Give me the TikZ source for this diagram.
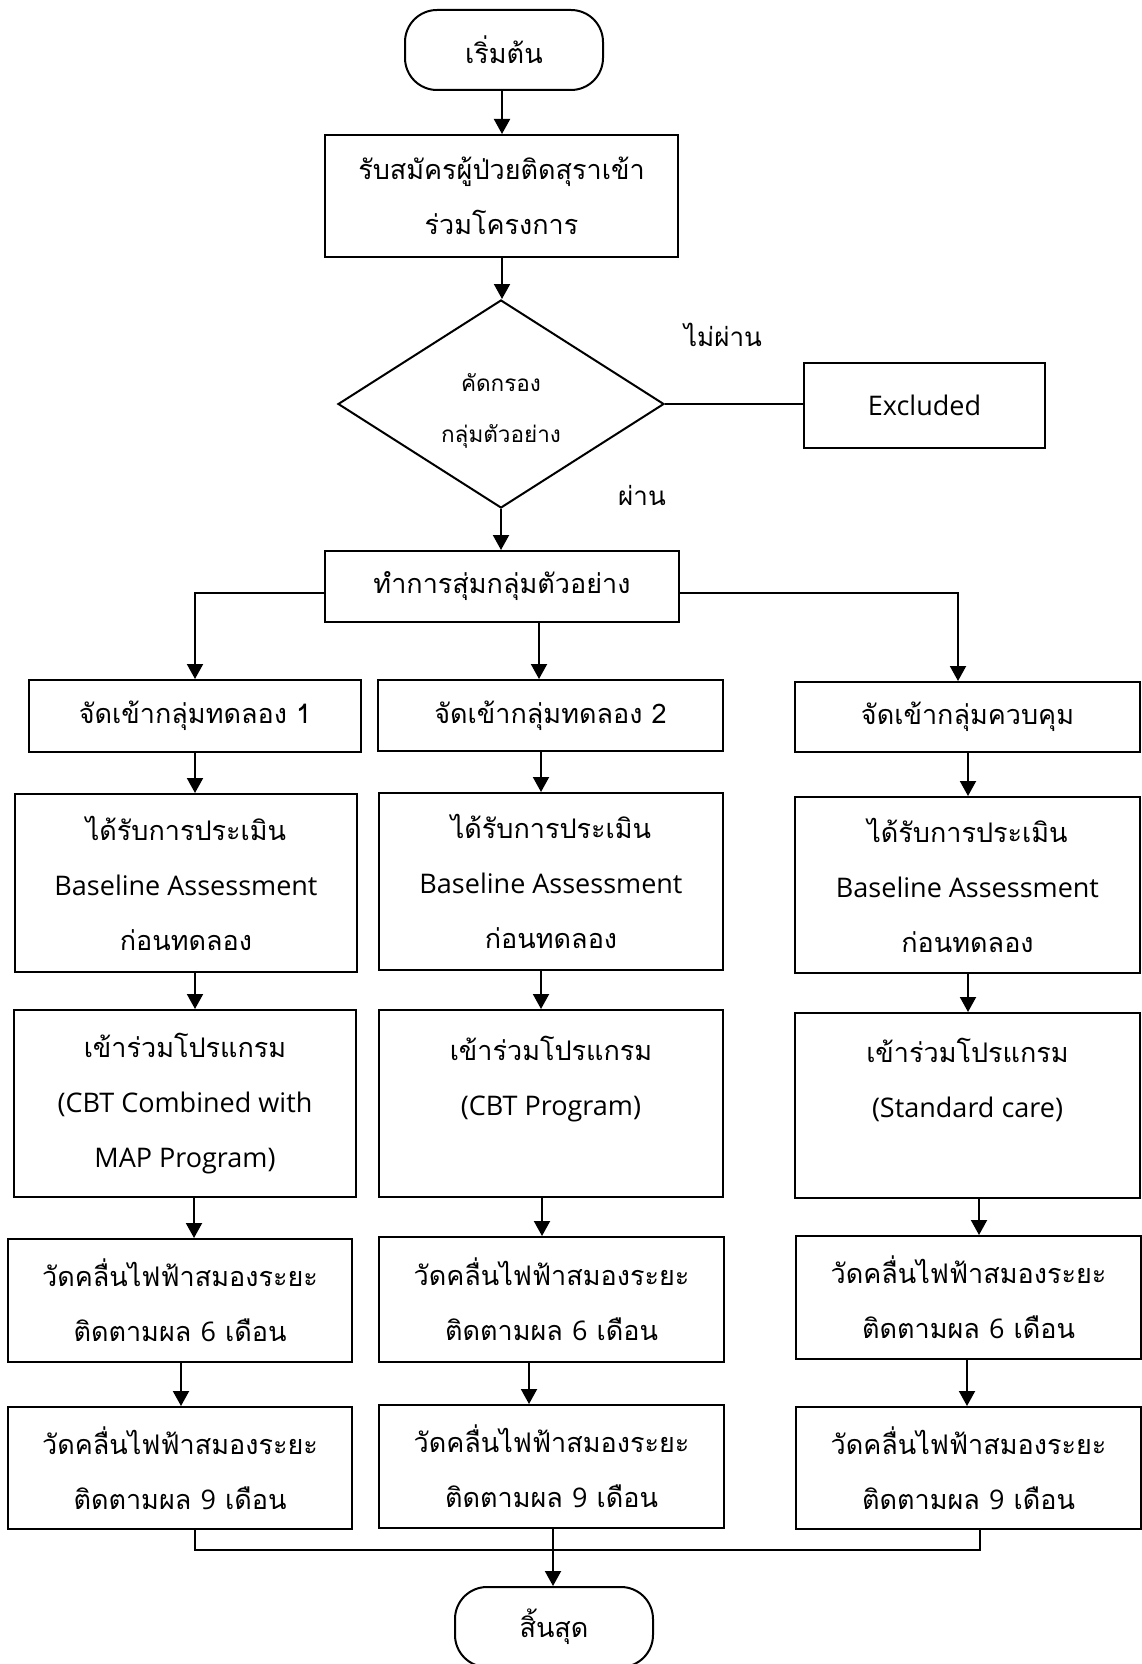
\documentclass[tikz,border=0pt]{standalone}
\usepackage{fontspec}
\setmainfont[Script=Thai]{Loma}
\newfontfamily\latin{Open Sans}
\newcommand{\lt}[1]{{\latin #1}}
\usetikzlibrary{shapes.geometric,arrows.meta}
\begin{document}
\begin{tikzpicture}[x=1pt,y=-1pt,
  line width=2pt,
  box/.style={draw, rectangle, inner sep=0pt, align=center,
    font=\fontsize{27}{55}\selectfont},
  term/.style={box, rounded corners=32pt},
  decide/.style={draw, diamond, shape aspect=1.567, inner sep=0pt},
  decidetext/.style={inner sep=0pt, align=center, font=\fontsize{22.5}{51}\selectfont},
  arr/.style={-{Triangle[length=15pt,width=16pt]}},
  lbl/.style={inner sep=0pt, font=\fontsize{26}{30}\selectfont}]
\useasboundingbox (0,0) rectangle (1142,1664);
\fill[white] (0,0) rectangle (1142,1664);

% top part
\node[term, minimum width=198pt, minimum height=80pt] (start) at (504,50) {เริ่มต้น};
\node[box, minimum width=353pt, minimum height=122pt] (recruit) at (501.5,196)
  {รับสมัครผู้ป่วยติดสุราเข้า\\ร่วมโครงการ};
\node[decide, minimum width=326pt, minimum height=208pt] (screen) at (501,404) {};
\node[decidetext] (screentext) at (501,411) {คัดกรอง\\กลุ่มตัวอย่าง};
\node[box, minimum width=241pt, minimum height=85pt] (excl) at (924.5,405.5) {\lt{Excluded}};
\node[box, minimum width=354pt, minimum height=71pt] (rand) at (502,586.5)
  {ทำการสุ่มกลุ่มตัวอย่าง};
\node[lbl] (fail) at (723,335) {ไม่ผ่าน};
\node[lbl] (pass) at (642,495) {ผ่าน};

% group assignment
\node[box, minimum width=332pt, minimum height=72pt] (g1) at (195,716) {จัดเข้ากลุ่มทดลอง 1};
\node[box, minimum width=345pt, minimum height=71pt] (g2) at (550.5,715.5) {จัดเข้ากลุ่มทดลอง 2};
\node[box, minimum width=345pt, minimum height=70pt] (g3) at (967.5,717) {จัดเข้ากลุ่มควบคุม};

% baseline assessment
\node[box, minimum width=342pt, minimum height=178pt] (b1) at (186,883)
  {ได้รับการประเมิน\\\lt{Baseline Assessment}\\ก่อนทดลอง};
\node[box, minimum width=344pt, minimum height=177pt] (b2) at (551,881.5)
  {ได้รับการประเมิน\\\lt{Baseline Assessment}\\ก่อนทดลอง};
\node[box, minimum width=345pt, minimum height=176pt] (b3) at (967.5,885)
  {ได้รับการประเมิน\\\lt{Baseline Assessment}\\ก่อนทดลอง};

% programmes
\node[box, minimum width=342pt, minimum height=187pt] (p1) at (185,1103.5)
  {เข้าร่วมโปรแกรม\\\lt{(CBT Combined with}\\\lt{MAP Program)}};
\node[box, minimum width=344pt, minimum height=187pt] (p2) at (551,1103.5)
  {เข้าร่วมโปรแกรม\\\lt{(CBT Program)}\\~};
\node[box, minimum width=345pt, minimum height=185pt] (p3) at (967.5,1105.5)
  {เข้าร่วมโปรแกรม\\\lt{(Standard care)}\\~};

% follow-up at 6 months
\node[box, minimum width=344pt, minimum height=123pt] (s1) at (180,1300.5)
  {วัดคลื่นไฟฟ้าสมองระยะ\\ติดตามผล \lt{6} เดือน};
\node[box, minimum width=345pt, minimum height=125pt] (s2) at (551.5,1299.5)
  {วัดคลื่นไฟฟ้าสมองระยะ\\ติดตามผล \lt{6} เดือน};
\node[box, minimum width=345pt, minimum height=123pt] (s3) at (968.5,1297.5)
  {วัดคลื่นไฟฟ้าสมองระยะ\\ติดตามผล \lt{6} เดือน};

% follow-up at 9 months
\node[box, minimum width=344pt, minimum height=122pt] (n1) at (180,1468)
  {วัดคลื่นไฟฟ้าสมองระยะ\\ติดตามผล \lt{9} เดือน};
\node[box, minimum width=345pt, minimum height=123pt] (n2) at (551.5,1466.5)
  {วัดคลื่นไฟฟ้าสมองระยะ\\ติดตามผล \lt{9} เดือน};
\node[box, minimum width=345pt, minimum height=122pt] (n3) at (968.5,1468)
  {วัดคลื่นไฟฟ้าสมองระยะ\\ติดตามผล \lt{9} เดือน};

\node[term, minimum width=198pt, minimum height=80pt] (stop) at (554,1627) {สิ้นสุด};

% guide coordinates for the vertical connectors
\coordinate (xs) at (502,0);
\coordinate (xl) at (195,0);
\coordinate (xm) at (539,0);
\coordinate (xr) at (958,0);
\coordinate (ga) at (195,0);  \coordinate (gb) at (541,0);  \coordinate (gc) at (968,0);
\coordinate (ha) at (194,0);  \coordinate (hb) at (542,0);  \coordinate (hc) at (979,0);
\coordinate (ka) at (181,0);  \coordinate (kb) at (529,0);  \coordinate (kc) at (967,0);
\coordinate (ma) at (195,0);  \coordinate (mb) at (553,0);  \coordinate (mc) at (980,0);
\coordinate (split) at (0,593);
\coordinate (merge) at (0,1550);

% connectors
\draw[arr] (xs |- start.south) -- (xs |- recruit.north);
\draw[arr] (xs |- recruit.south) -- (xs |- screen.north);
\draw (screen.east) -- (excl.west |- screen.east);
\draw[arr] (screen.south) -- (screen.south |- rand.north);
\draw[arr] (rand.west |- split) -| (xl |- g1.north);
\draw[arr] (rand.east |- split) -| (xr |- g3.north);
\draw[arr] (xm |- rand.south) -- (xm |- g2.north);

\draw[arr] (ga |- g1.south) -- (ga |- b1.north);
\draw[arr] (gb |- g2.south) -- (gb |- b2.north);
\draw[arr] (gc |- g3.south) -- (gc |- b3.north);

\draw[arr] (ga |- b1.south) -- (ga |- p1.north);
\draw[arr] (gb |- b2.south) -- (gb |- p2.north);
\draw[arr] (gc |- b3.south) -- (gc |- p3.north);

\draw[arr] (ha |- p1.south) -- (ha |- s1.north);
\draw[arr] (hb |- p2.south) -- (hb |- s2.north);
\draw[arr] (hc |- p3.south) -- (hc |- s3.north);

\draw[arr] (ka |- s1.south) -- (ka |- n1.north);
\draw[arr] (kb |- s2.south) -- (kb |- n2.north);
\draw[arr] (kc |- s3.south) -- (kc |- n3.north);

\draw (ma |- n1.south) -- (ma |- merge) -- (mc |- merge) -- (mc |- n3.south);
\draw[arr] (mb |- n2.south) -- (mb |- stop.north);
\end{tikzpicture}
\end{document}
